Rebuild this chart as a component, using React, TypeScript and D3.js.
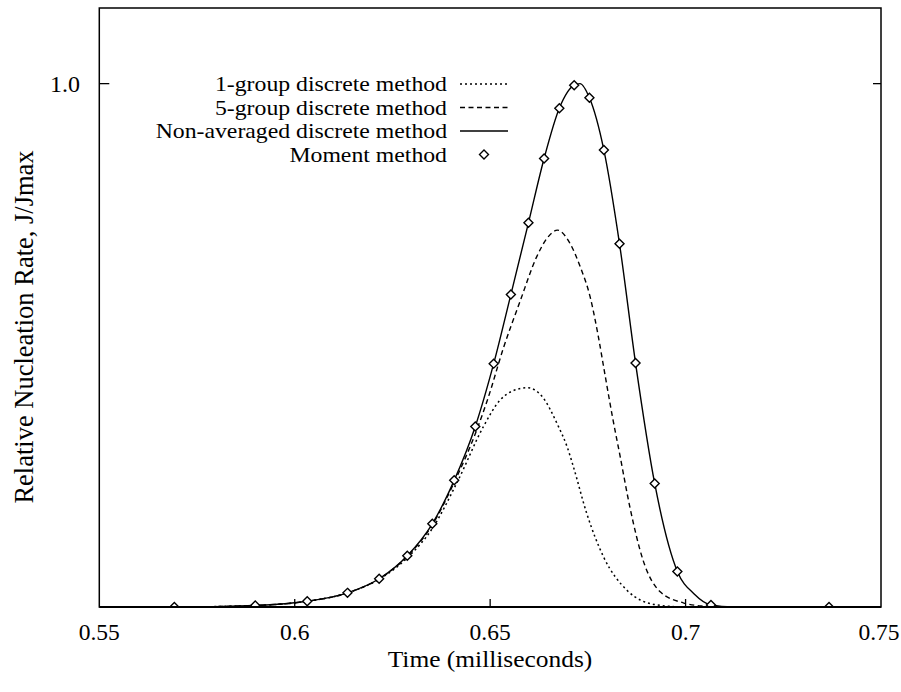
import * as d3 from 'd3';
import React, { useEffect, useRef } from 'react';

// moment method (diamond markers)
const momentT = [0.5692, 0.5899, 0.6032, 0.6135, 0.6216, 0.6288, 0.6352, 0.6408, 0.6462, 0.6509, 0.6553, 0.6598, 0.6638, 0.6677, 0.6715, 0.6754, 0.6791, 0.6831, 0.6872, 0.6921, 0.6979, 0.7065, 0.7367];
const momentJ = [0, 0.003, 0.011, 0.027, 0.054, 0.098, 0.159, 0.242, 0.345, 0.465, 0.597, 0.734, 0.857, 0.953, 0.997, 0.973, 0.873, 0.694, 0.466, 0.236, 0.068, 0.004, 0];

// non-averaged discrete method (solid)
const solidT = [0.55, 0.5692, 0.5899, 0.6032, 0.6135, 0.6216, 0.6288, 0.6352, 0.6408, 0.6462, 0.6509, 0.6553, 0.6598, 0.6638, 0.6677, 0.6715, 0.6730, 0.6754, 0.6791, 0.6831, 0.6872, 0.6921, 0.6979, 0.7022, 0.7065, 0.7120, 0.75];
const solidJ = [0, 0, 0.003, 0.011, 0.027, 0.054, 0.098, 0.159, 0.242, 0.345, 0.465, 0.597, 0.734, 0.857, 0.953, 0.997, 1.0, 0.973, 0.873, 0.694, 0.466, 0.236, 0.068, 0.025, 0.004, 0, 0];

// 5-group discrete method (dashed)
const fiveT = [0.55, 0.5692, 0.5899, 0.6032, 0.6135, 0.6216, 0.6288, 0.6352, 0.6408, 0.6464, 0.6495, 0.6534, 0.6577, 0.6619, 0.6646, 0.6672, 0.6704, 0.6730, 0.6756, 0.6776, 0.6794, 0.6812, 0.6832, 0.6858, 0.6891, 0.6935, 0.6994, 0.7040, 0.7100, 0.75];
const fiveJ = [0, 0, 0.003, 0.011, 0.027, 0.054, 0.097, 0.157, 0.238, 0.335, 0.400, 0.495, 0.585, 0.669, 0.705, 0.720, 0.695, 0.651, 0.592, 0.520, 0.443, 0.367, 0.290, 0.189, 0.090, 0.029, 0.008, 0.002, 0, 0];

// 1-group discrete method (dotted)
const oneT = [0.55, 0.5692, 0.5899, 0.6032, 0.6135, 0.6216, 0.6288, 0.6352, 0.6418, 0.6483, 0.6525, 0.6555, 0.6595, 0.6632, 0.6674, 0.6697, 0.6713, 0.6747, 0.6790, 0.6850, 0.6926, 0.7000, 0.75];
const oneJ = [0, 0, 0.003, 0.011, 0.027, 0.053, 0.094, 0.150, 0.242, 0.345, 0.395, 0.412, 0.419, 0.403, 0.346, 0.306, 0.268, 0.179, 0.096, 0.032, 0.004, 0, 0];

const xTicks = [0.55, 0.6, 0.65, 0.7, 0.75];
const xTickLabels = ['0.55', '0.6', '0.65', '0.7', '0.75'];
const yTicks = [1.0];
const yTickLabels = ['1.0'];

const legendLabels = ['1-group discrete method', '5-group discrete method', 'Non-averaged discrete method', 'Moment method'];

const W = 901;
const H = 692;
const FONT = '"Liberation Serif", "Times New Roman", serif';

const App = () => {
    const svgRef = useRef(null);

    useEffect(() => {
        const svg = d3.select(svgRef.current);
        svg.selectAll('*').remove();

        const left = 99.3, right = 881, top = 8, bottom = 607;

        const x = d3.scaleLinear().domain([0.55, 0.75]).range([left, right]);
        const y = d3.scaleLinear().domain([0, 1.1445]).range([bottom, top]);

        svg.append('clipPath').attr('id', 'plotclip')
            .append('rect')
            .attr('x', left).attr('y', top)
            .attr('width', right - left).attr('height', bottom - top);

        const line = d3.line()
            .x(d => x(d[0]))
            .y(d => y(d[1]))
            .curve(d3.curveMonotoneX);

        const curves = [
            { t: oneT, j: oneJ, dash: '2,3', w: 1.5 },
            { t: fiveT, j: fiveJ, dash: '5,3.5', w: 1.4 },
            { t: solidT, j: solidJ, dash: null, w: 1.4 },
        ];

        const plot = svg.append('g').attr('clip-path', 'url(#plotclip)');

        curves.forEach(c => {
            plot.append('path')
                .attr('d', line(c.t.map((t, i) => [t, c.j[i]])))
                .attr('fill', 'none')
                .attr('stroke', '#000')
                .attr('stroke-width', c.w)
                .attr('stroke-dasharray', c.dash);
        });

        const diamond = (cx, cy, r) => `M${cx},${cy - r}L${cx + r},${cy}L${cx},${cy + r}L${cx - r},${cy}Z`;

        plot.selectAll('path.moment')
            .data(momentT.map((t, i) => [t, momentJ[i]]))
            .join('path')
            .attr('class', 'moment')
            .attr('d', d => diamond(x(d[0]), y(d[1]), 4.5))
            .attr('fill', '#fff')
            .attr('stroke', '#000')
            .attr('stroke-width', 1.4);

        // frame
        svg.append('rect')
            .attr('x', left).attr('y', top)
            .attr('width', right - left).attr('height', bottom - top)
            .attr('fill', 'none')
            .attr('stroke', '#000')
            .attr('stroke-width', 1.5);
        svg.append('line')
            .attr('x1', left).attr('x2', right)
            .attr('y1', bottom).attr('y2', bottom)
            .attr('stroke', '#000').attr('stroke-width', 2);

        // x ticks
        svg.append('g').selectAll('line')
            .data(xTicks.slice(1, -1))
            .join('line')
            .attr('x1', d => x(d)).attr('x2', d => x(d))
            .attr('y1', bottom).attr('y2', bottom - 8)
            .attr('stroke', '#000').attr('stroke-width', 1.3);

        svg.append('g').selectAll('text')
            .data(xTicks)
            .join('text')
            .attr('x', d => Math.min(x(d), 879))
            .attr('y', 640)
            .attr('text-anchor', 'middle')
            .style('font-family', FONT)
            .style('font-size', '23.5px')
            .text((d, i) => xTickLabels[i]);

        // y ticks (both sides)
        yTicks.forEach((v, i) => {
            svg.append('line')
                .attr('x1', left).attr('x2', left + 10)
                .attr('y1', y(v)).attr('y2', y(v))
                .attr('stroke', '#000').attr('stroke-width', 1.3);
            svg.append('line')
                .attr('x1', right).attr('x2', right - 8)
                .attr('y1', y(v)).attr('y2', y(v))
                .attr('stroke', '#000').attr('stroke-width', 1.3);
            svg.append('text')
                .attr('x', 80)
                .attr('y', y(v) + 8)
                .attr('text-anchor', 'end')
                .style('font-family', FONT)
                .style('font-size', '24px')
                .text(yTickLabels[i]);
        });

        // axis titles
        svg.append('text')
            .attr('transform', 'translate(490,667) scale(1.06,1)')
            .attr('text-anchor', 'middle')
            .style('font-family', FONT)
            .style('font-size', '24px')
            .text('Time (milliseconds)');

        svg.append('text')
            .attr('transform', `translate(33,327) rotate(-90)`)
            .attr('text-anchor', 'middle')
            .style('font-family', FONT)
            .style('font-size', '26.5px')
            .text('Relative Nucleation Rate, J/Jmax');

        // legend
        const rowY = [84, 107.5, 131, 154.5];
        const leg = svg.append('g');
        leg.selectAll('text')
            .data(legendLabels)
            .join('text')
            .attr('transform', (d, i) => `translate(447,${rowY[i] + 7}) scale(1.08,1)`)
            .attr('text-anchor', 'end')
            .style('font-family', FONT)
            .style('font-size', '22px')
            .text(d => d);

        curves.forEach((c, i) => {
            leg.append('line')
                .attr('x1', 460).attr('x2', 508)
                .attr('y1', rowY[i]).attr('y2', rowY[i])
                .attr('stroke', '#000')
                .attr('stroke-width', c.w)
                .attr('stroke-dasharray', c.dash);
        });
        leg.append('path')
            .attr('d', diamond(484, rowY[3], 4.5))
            .attr('fill', '#fff')
            .attr('stroke', '#000')
            .attr('stroke-width', 1.4);
    }, []);

    return (
        <svg ref={svgRef} width={W} height={H}
            style={{ position: 'absolute', left: 0, top: 0, background: '#fff' }}>
        </svg>
    );
};

export default App;
